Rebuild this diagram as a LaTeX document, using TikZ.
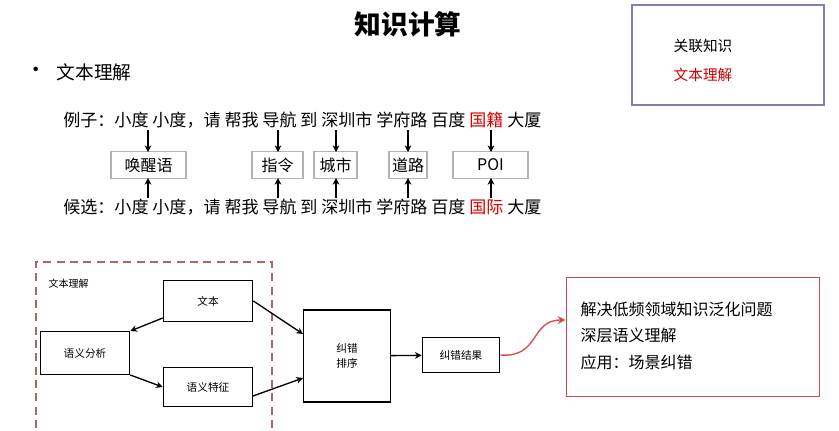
\documentclass[tikz,border=0pt]{standalone}
\usepackage{fontspec}
\setmainfont{Noto Sans CJK SC}
\usetikzlibrary{arrows.meta}
\begin{document}
\begin{tikzpicture}[x=0.75pt,y=-0.75pt,
  box/.style={draw=black!30,line width=0.9pt,inner sep=0pt,font=\fontsize{12}{14}\selectfont},
  fbox/.style={draw=black,line width=1pt,inner sep=0pt,font=\fontsize{8}{11}\selectfont,align=center},
  ar/.style={-{Stealth[length=5pt,width=5pt]},line width=1pt},
  row/.style={anchor=west,inner sep=0pt,font=\fontsize{12.8}{14}\selectfont}]
\useasboundingbox (0,0) rectangle (839,430);
\fill[white] (0,0) rectangle (839,430);
\node (title) at (408,24) {\fontsize{20}{24}\selectfont\bfseries 知识计算};
\node (bul) at (36,72) {\fontsize{16}{16}\selectfont •};
\node[anchor=west] (sub) at (52,72) {\fontsize{14}{16}\selectfont 文本理解};
\node[draw=black!60!blue!50,line width=1pt,minimum width=144pt,minimum height=75pt] (kb) at (728,55) {};
\node (k1) at (703,46) {\fontsize{11}{13}\selectfont 关联知识};
\node (k2) at (703,75) {\fontsize{11}{13}\selectfont\color{red!80!black} 文本理解};
\node[row] (r1) at (63,120) {例子：小度 小度，请 帮我 导航 到 深圳市 学府路 百度 \textcolor{red!85!black}{国籍} 大厦};
\node[row] (r2) at (63,207) {候选：小度 小度，请 帮我 导航 到 深圳市 学府路 百度 \textcolor{red!85!black}{国际} 大厦};
\foreach \n/\a/\b/\t in {b1/111/186/唤醒语,b2/252/303/指令,b3/314/357/城市,b4/389/427/道路,b5/453/528/POI}{
  \node[box,minimum width={(\b-\a)*0.75pt},minimum height=20pt] (\n) at ({(\a+\b)/2},165) {\t};
}
\foreach \n/\x in {b1/148,b2/278,b3/336,b4/408,b5/491}{
  \coordinate (\n t) at (\x,130); \coordinate (\n s) at (\x,198);
  \coordinate (\n e) at (\x,152); \coordinate (\n f) at (\x,178);
  \draw[ar,line width=0.8pt] (\n t) -- (\n e);
  \draw[ar,line width=0.8pt] (\n s) -- (\n f);
}
\draw[dashed,dash pattern=on 6pt off 4pt,draw=red!45!black!60,line width=1pt] (36,428) -- (36,262) -- (272,262) -- (272,428);
\node[anchor=west,font=\fontsize{7.5}{9}\selectfont] (lab) at (44,284) {文本理解};
\node[fbox,minimum width=67pt,minimum height=31pt] (wb) at (208,301) {文本};
\node[fbox,minimum width=67pt,minimum height=32pt] (fx) at (85,353) {语义分析};
\node[fbox,minimum width=67pt,minimum height=29pt] (tz) at (208,387) {语义特征};
\node[fbox,minimum width=65pt,minimum height=69pt] (px) at (347,356) {纠错\\排序};
\node[fbox,minimum width=58pt,minimum height=26pt] (jg) at (461,355) {纠错结果};
\draw[ar] (wb.west|-0,318) -- (fx.north east);
\draw[ar] (fx.south east) -- (tz.west);
\draw[ar] (wb.east) -- (303,334);
\draw[ar] (253,396) -- (303,378);
\draw[ar] (px) -- (jg);
\node[draw=red!70!black!70,line width=1pt,minimum width=190pt,minimum height=89pt] (rb) at (693,337) {};
\node[anchor=west,font=\fontsize{12}{14}\selectfont] (t1) at (576,309) {解决低频领域知识泛化问题};
\node[anchor=west,font=\fontsize{12}{14}\selectfont] (t2) at (576,335) {深层语义理解};
\node[anchor=west,font=\fontsize{12}{14}\selectfont] (t3) at (576,362) {应用：场景纠错};
\draw[-{Stealth[length=6pt,width=6pt]},draw=red!75!black!70,line width=1pt] (jg.east) .. controls (540,358) and (530,320) .. (rb.west|-0,320);
\end{tikzpicture}
\end{document}
